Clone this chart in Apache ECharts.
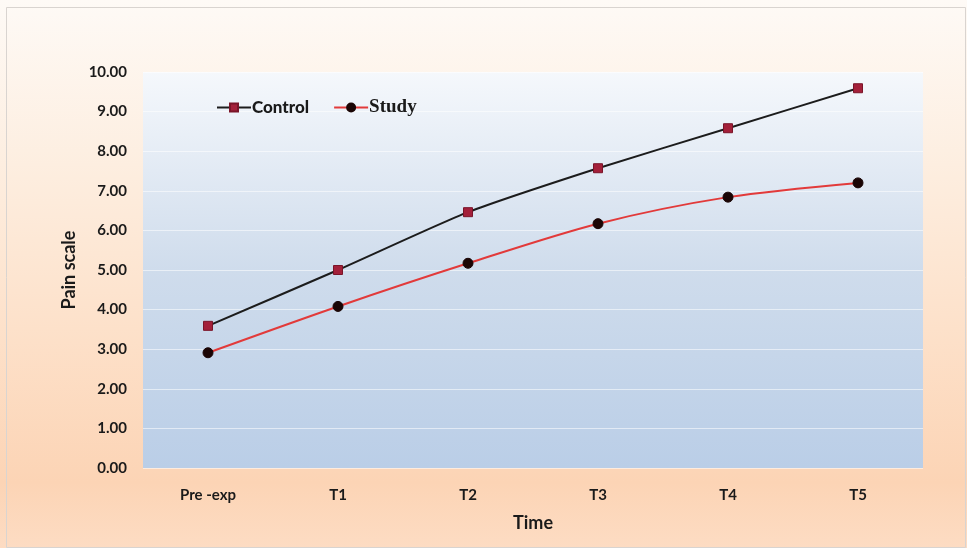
<!DOCTYPE html>
<html>
<head>
<meta charset="utf-8">
<script src="https://cdn.jsdelivr.net/npm/echarts@6/dist/echarts.min.js"></script>
<style>html,body{margin:0;padding:0;}#c{width:967px;height:548px;}</style>
</head>
<body>
<div id="c"></div>
<script>
const categories = ['Pre -exp', 'T1', 'T2', 'T3', 'T4', 'T5'];
const controlValues = [3.59, 5.0, 6.46, 7.57, 8.58, 9.59];
const studyValues = [2.91, 4.08, 5.17, 6.17, 6.84, 7.20];
const yTicks = { min: 0, max: 10, interval: 1 };

const chart = echarts.init(document.getElementById('c'));
const font = 'Lato, "Open Sans", sans-serif';
chart.setOption({
  animation: false,
  backgroundColor: {
    type: 'linear', x: 0, y: 0, x2: 0, y2: 1,
    colorStops: [
      { offset: 0, color: '#fefaf6' },
      { offset: 0.3, color: '#fdeee0' },
      { offset: 0.6, color: '#fde1ca' },
      { offset: 0.88, color: '#fcd4b5' },
      { offset: 1, color: '#fddcc3' }
    ]
  },
  graphic: [{
    type: 'rect', left: 4, top: 5, shape: { width: 959, height: 540 },
    style: { fill: 'none', stroke: '#d9d4d0', lineWidth: 1 }, silent: true
  }],
  grid: {
    left: 143, right: 44, top: 72, bottom: 80, show: true, borderWidth: 0,
    backgroundColor: {
      type: 'linear', x: 0, y: 0, x2: 0, y2: 1,
      colorStops: [
        { offset: 0, color: '#f5f8fc' },
        { offset: 0.5, color: '#cfdcec' },
        { offset: 1, color: '#bacee7' }
      ]
    }
  },
  legend: {
    left: 211, top: 93, itemWidth: 34, itemHeight: 10, itemGap: 24,
    data: ['Control', 'Study'],
    formatter: function (n) { return n === 'Control' ? '{c|Control}' : '{s|Study}'; },
    textStyle: {
      padding: [0, 0, 0, -4],
      rich: {
        c: { fontFamily: font, fontWeight: 900, fontSize: 17, color: '#1a1a1a' },
        s: { fontFamily: '"Liberation Serif", serif', fontWeight: 'bold', fontSize: 19, color: '#1a1a1a' }
      }
    }
  },
  xAxis: {
    type: 'category', data: categories, boundaryGap: true,
    name: 'Time', nameLocation: 'middle', nameGap: 46,
    nameTextStyle: { fontFamily: font, fontWeight: 'bold', fontSize: 18, color: '#1a1a1a' },
    axisLine: { show: false }, axisTick: { show: false },
    axisLabel: { fontFamily: font, fontWeight: 'bold', fontSize: 15, color: '#1a1a1a', margin: 20 }
  },
  yAxis: {
    type: 'value', min: yTicks.min, max: yTicks.max, interval: yTicks.interval,
    name: 'Pain scale', nameLocation: 'middle', nameGap: 64, nameRotate: 90,
    nameTextStyle: { fontFamily: font, fontWeight: 'bold', fontSize: 18, color: '#1a1a1a' },
    axisLine: { show: false }, axisTick: { show: false },
    axisLabel: { fontFamily: font, fontWeight: 'bold', fontSize: 15, color: '#1a1a1a', margin: 16,
      formatter: function (v) { return v.toFixed(2); } },
    splitLine: { lineStyle: { color: 'rgba(255,255,255,0.55)', width: 1 } }
  },
  series: [
    {
      name: 'Control', type: 'line', data: controlValues, smooth: 0.2,
      symbol: 'rect', symbolSize: 9,
      lineStyle: { color: '#1c1c1c', width: 2 },
      itemStyle: { color: '#a3203a', borderColor: '#7a1428', borderWidth: 1 }
    },
    {
      name: 'Study', type: 'line', data: studyValues, smooth: 0.3,
      symbol: 'circle', symbolSize: 10,
      lineStyle: { color: '#e23a3a', width: 2 },
      itemStyle: { color: '#1a0505', borderColor: '#1a0505', borderWidth: 1 }
    }
  ]
});
</script>
</body>
</html>
